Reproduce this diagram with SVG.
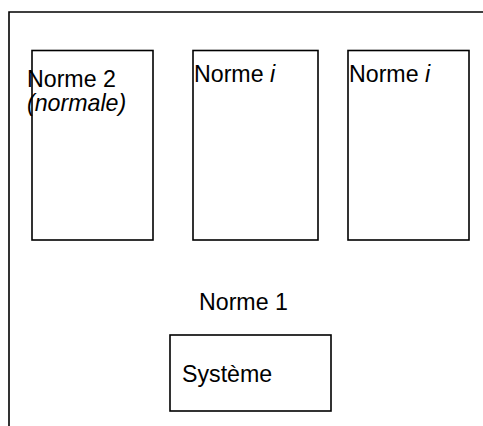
<svg xmlns="http://www.w3.org/2000/svg" width="483" height="426" viewBox="0 0 483 426">
<style>
.box{fill:none;stroke:#000;stroke-width:1.6}
.t{font-family:"Liberation Sans",Arial,sans-serif;font-size:23.2px;fill:#000}
.i{font-style:italic}
</style>
<rect width="483" height="426" fill="#fff"/>
<g id="frame"><path class="box" d="M9,426 V12 H484"/></g>
<g id="norme2"><rect class="box" x="32" y="50.5" width="121" height="189.5"/><text class="t" x="27" y="87">Norme 2</text><text class="t i" x="27" y="111">(normale)</text></g>
<g id="normei-a"><rect class="box" x="193" y="50.5" width="125" height="189.5"/><text class="t" x="194" y="82">Norme <tspan class="i">i</tspan></text></g>
<g id="normei-b"><rect class="box" x="348" y="50.5" width="121" height="189.5"/><text class="t" x="349" y="82">Norme <tspan class="i">i</tspan></text></g>
<g id="norme1"><text class="t" x="199" y="310">Norme 1</text></g>
<g id="systeme"><rect class="box" x="170" y="335" width="161" height="76"/><text class="t" x="182" y="382">Système</text></g>
<g id="connectors"></g>
</svg>
